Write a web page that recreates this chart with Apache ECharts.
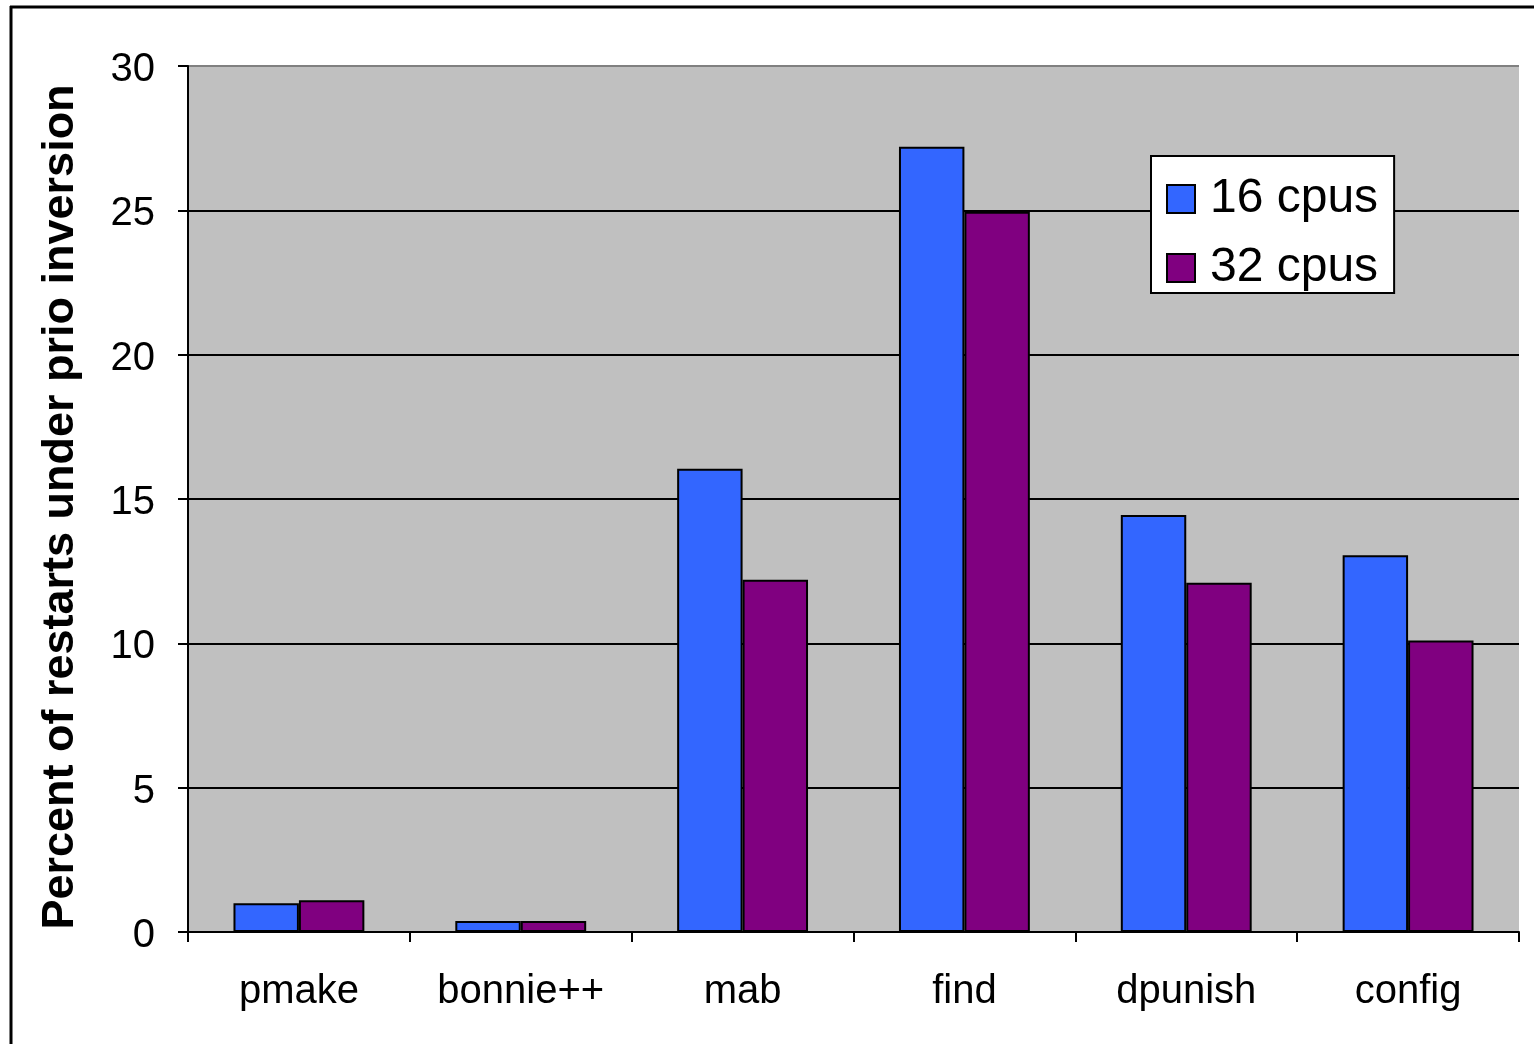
<!DOCTYPE html>
<html>
<head>
<meta charset="utf-8">
<style>
  html, body { margin: 0; padding: 0; background: #fff; }
  #chart { width: 1534px; height: 1044px; }
</style>
<script src="https://cdn.jsdelivr.net/npm/echarts@6/dist/echarts.min.js"></script>
</head>
<body>
<div id="chart"></div>
<script>
// Benchmarks and the share of restarts caused by priority inversion (%)
const categories = ['pmake', 'bonnie++', 'mab', 'find', 'dpunish', 'config'];
const cpus16 = [1.0, 0.38, 16.05, 27.2, 14.45, 13.05];
const cpus32 = [1.1, 0.38, 12.2, 24.95, 12.1, 10.1];
const yTicks = [0, 5, 10, 15, 20, 25, 30];

const font = '"Liberation Sans", Arial, sans-serif';
const chart = echarts.init(document.getElementById('chart'), null, { renderer: 'canvas' });

chart.setOption({
  backgroundColor: '#ffffff',
  animation: false,
  // slide frame around the chart
  graphic: [
    { type: 'line', shape: { x1: 10, y1: 7, x2: 1534, y2: 7 }, style: { stroke: '#000', lineWidth: 3 } },
    { type: 'line', shape: { x1: 11, y1: 6, x2: 11, y2: 1044 }, style: { stroke: '#000', lineWidth: 3 } }
  ],
  grid: {
    left: 188, right: 15, top: 66, bottom: 112,
    show: true, backgroundColor: '#c0c0c0', borderWidth: 0
  },
  legend: {
    orient: 'vertical',
    left: 1151, top: 156,
    backgroundColor: '#ffffff',
    borderColor: '#000', borderWidth: 2,
    padding: [19, 16, 1, 15],
    itemWidth: 28, itemHeight: 28, itemGap: 21,
    icon: 'rect',
    itemStyle: { borderColor: '#000', borderWidth: 2 },
    textStyle: { fontFamily: font, fontSize: 48, lineHeight: 48, color: '#000', padding: [0, 0, 0, 10] },
    data: ['16 cpus', '32 cpus']
  },
  xAxis: {
    type: 'category',
    data: categories,
    axisLine: { lineStyle: { color: '#000', width: 2 } },
    axisTick: { show: true, length: 10, lineStyle: { color: '#000', width: 2 } },
    axisLabel: { fontFamily: font, fontSize: 40, color: '#000', margin: 40 },
    splitLine: { show: false }
  },
  yAxis: {
    type: 'value',
    min: 0, max: 30, interval: 5,
    name: 'Percent of restarts under prio inversion',
    nameLocation: 'middle',
    nameGap: 105,
    nameTextStyle: {
      fontFamily: font, fontSize: 45, fontWeight: 'bold', color: '#000',
      padding: [0, 16, 0, 0]
    },
    axisLine: { show: true, lineStyle: { color: '#000', width: 2 } },
    axisTick: { show: true, length: 10, lineStyle: { color: '#000', width: 2 } },
    axisLabel: {
      fontFamily: font, fontSize: 40, color: '#000', margin: 33,
      formatter: v => (yTicks.includes(v) ? '{v|' + v + '}' : ''),
      rich: { v: { fontFamily: font, fontSize: 40, color: '#000', padding: [8, 0, 0, 0] } }
    },
    splitLine: {
      show: true,
      lineStyle: { color: ['#000', '#000', '#000', '#000', '#000', '#000', '#808080'], width: 2 }
    }
  },
  series: [
    {
      name: '16 cpus', type: 'bar', data: cpus16,
      barGap: '0%', barCategoryGap: '41%',
      itemStyle: { color: '#3366ff', borderColor: '#000', borderWidth: 2 }
    },
    {
      name: '32 cpus', type: 'bar', data: cpus32,
      itemStyle: { color: '#800080', borderColor: '#000', borderWidth: 2 }
    }
  ]
});
</script>
</body>
</html>
